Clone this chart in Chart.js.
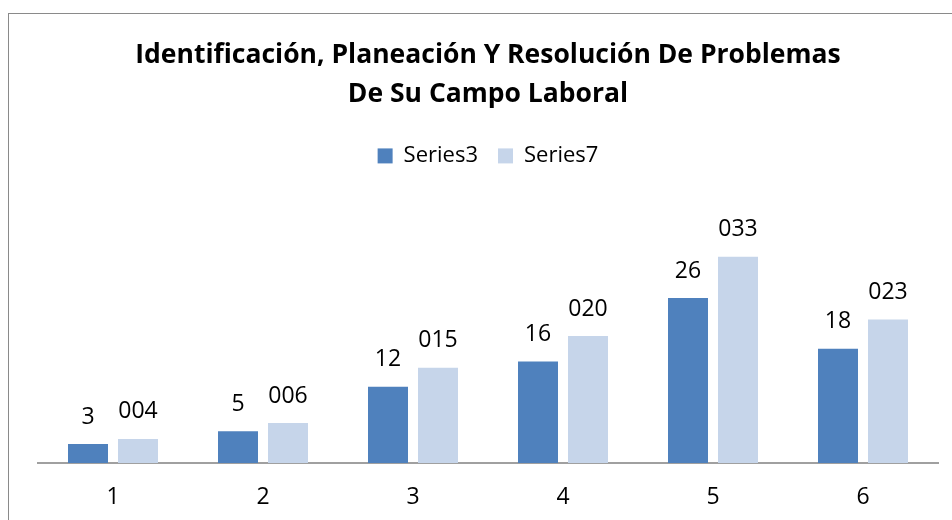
<!DOCTYPE html>
<html>
<head>
<meta charset="utf-8">
<script src="https://cdn.jsdelivr.net/npm/chart.js@4.4.1/dist/chart.umd.min.js"></script>
<style>
  html, body { margin: 0; padding: 0; background: #fff; overflow: hidden; }
  canvas { display: block; }
</style>
</head>
<body>
<canvas id="grafico" width="952" height="520"></canvas>
<script>
// Datos
const categorias = ["1", "2", "3", "4", "5", "6"];
const series3 = [3, 5, 12, 16, 26, 18];
const series7 = [3.8, 6.3, 15, 20, 32.5, 22.6];
const titulo = ["Identificación, Planeación Y Resolución De Problemas", "De Su Campo Laboral"];

const FUENTE = "'Open Sans', 'Liberation Sans', sans-serif";

// Marco gris del gráfico
const marco = {
    id: 'marco',
    beforeDraw(chart) {
        const ctx = chart.ctx;
        ctx.save();
        ctx.strokeStyle = '#8a8a8a';
        ctx.lineWidth = 1;
        ctx.strokeRect(8.5, 13.5, 1000, 1000);
        ctx.restore();
    }
};

// Espacio extra debajo de la leyenda (el área de trazado empieza más abajo)
const espacioLeyenda = {
    id: 'espacioLeyenda',
    beforeInit(chart) {
        const fitOriginal = chart.legend.fit;
        chart.legend.fit = function() {
            fitOriginal.call(this);
            this.height = 116;
        };
    }
};

// Etiquetas de valor sobre cada barra
const etiquetas = {
    id: 'etiquetas',
    afterDatasetsDraw(chart) {
        const ctx = chart.ctx;
        ctx.save();
        ctx.font = "23px " + FUENTE;
        ctx.fillStyle = '#000';
        ctx.textAlign = 'center';
        ctx.textBaseline = 'middle';
        chart.data.datasets.forEach((ds, i) => {
            chart.getDatasetMeta(i).data.forEach((bar, j) => {
                const v = ds.data[j];
                const txt = i === 1 ? String(Math.round(v)).padStart(3, '0') : String(v);
                ctx.fillText(txt, bar.x, bar.y - 27);
            });
        });
        ctx.restore();
    }
};

const config = {
    type: 'bar',
    data: {
        labels: categorias,
        datasets: [{
            label: "Series3",
            data: series3,
            backgroundColor: '#4F81BD',
            categoryPercentage: 2 / 3,
            barPercentage: 0.8
        }, {
            label: "Series7",
            data: series7,
            backgroundColor: '#C6D5EA',
            categoryPercentage: 2 / 3,
            barPercentage: 0.8
        }]
    },
    options: {
        responsive: false,
        animation: false,
        devicePixelRatio: 1,
        layout: { padding: { left: 38, right: 14, top: 20, bottom: 0 } },
        plugins: {
            title: {
                display: true,
                text: titulo,
                color: '#000',
                font: { family: FUENTE, size: 26.5, weight: 'bold', lineHeight: 1.47 },
                padding: { top: 16, bottom: 11 }
            },
            legend: {
                display: true,
                position: 'top',
                labels: {
                    color: '#000',
                    font: { family: FUENTE, size: 22 },
                    boxWidth: 15,
                    boxHeight: 15,
                    padding: 20
                }
            },
            tooltip: { enabled: false }
        },
        scales: {
            x: {
                grid: { display: false, drawTicks: false },
                border: { display: true, color: '#a0a0a0', width: 2 },
                ticks: { color: '#000', font: { family: FUENTE, size: 23 }, padding: 21 },
                afterFit(scale) { scale.height = 57; }
            },
            y: {
                display: false,
                min: 0,
                max: 35
            }
        }
    },
    plugins: [marco, espacioLeyenda, etiquetas]
};

window.onload = function() {
    const ctx = document.getElementById('grafico').getContext('2d');
    new Chart(ctx, config);
};
</script>
</body>
</html>
